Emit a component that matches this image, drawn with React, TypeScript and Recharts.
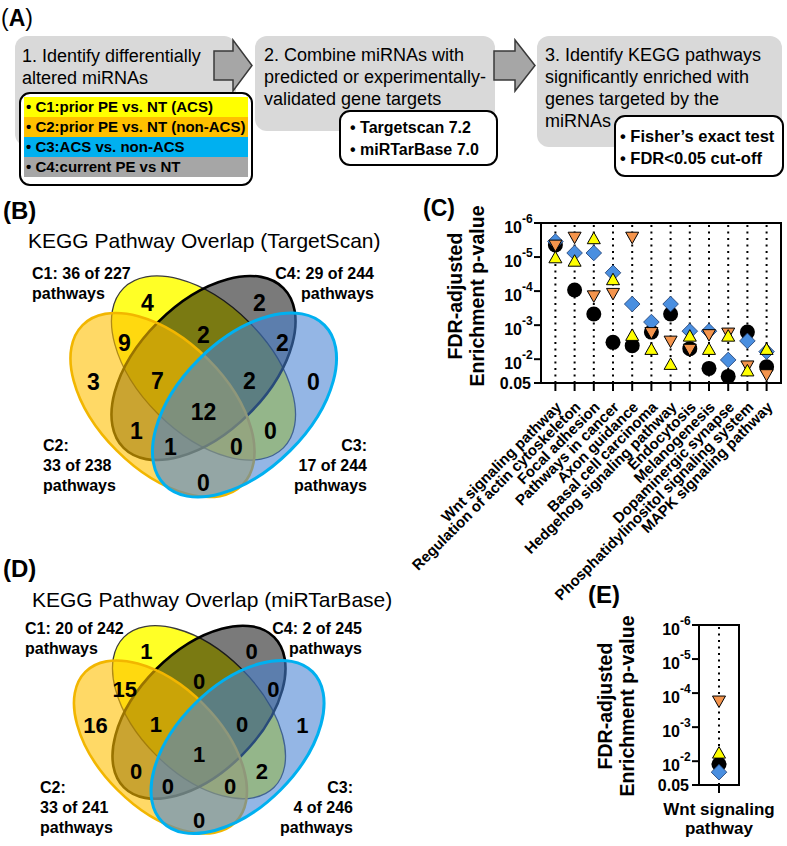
import React from 'react';
import { ScatterChart, Scatter, XAxis, YAxis, ReferenceLine, ReferenceArea } from 'recharts';

const FONT = '"Liberation Sans", Arial, Helvetica, sans-serif';

// ---------- Panel C data ----------
const pathways = [
  'Wnt signaling pathway',
  'Regulation of actin cytoskeleton',
  'Focal adhesion',
  'Pathways in cancer',
  'Axon guidance',
  'Basal cell carcinoma',
  'Hedgehog signaling pathway',
  'Endocytosis',
  'Melanogenesis',
  'Dopaminergic synapse',
  'Phosphatidylinositol signaling system',
  'MAPK signaling pathway',
];
const c1P = [1.0e-5, 1.26e-5, 2.75e-6, 4.4e-5, 1.9e-3, 4.9e-3, 1.35e-2, 2.0e-3, 4.9e-3, 2.0e-3, 2.1e-2, 4.9e-3];
const c2P = [4.7e-6, 2.75e-6, 1.45e-4, 1.23e-4, 2.75e-6, 1.74e-3, 3.1e-3, 5.4e-3, 2.0e-3, 1.8e-3, 1.66e-2, 3.0e-2];
const c3P = [3.5e-6, 7.6e-6, 7.6e-6, 2.9e-5, 2.4e-4, 8.1e-4, 2.4e-4, 1.5e-3, 1.5e-3, 1.05e-2, 2.9e-3, 6.0e-3];
const c4P = [4.4e-6, 9.3e-5, 4.7e-4, 3.2e-3, 4.0e-3, 1.6e-3, 4.7e-4, 4.9e-3, 1.86e-2, 3.2e-2, 1.6e-3, 1.66e-2];
const pTicks = [1e-6, 1e-5, 1e-4, 1e-3, 1e-2, 0.05];

// ---------- Panel E data ----------
const ePathways = ['Wnt signaling pathway'];
const eC1P = [5.5e-3];
const eC2P = [1.8e-4];
const eC3P = [2.1e-2];
const eC4P = [1.23e-2];

// ---------- Venn data ----------
const tsCounts = [4, 2, 9, 2, 2, 3, 7, 2, 0, 12, 1, 0, 1, 0, 0];
const mirCounts = [1, 0, 15, 0, 0, 16, 1, 0, 1, 1, 0, 2, 0, 0, 0];
const tsSetLabels = {
  C1: ['C1: 36 of 227', 'pathways'],
  C4: ['C4: 29 of 244', 'pathways'],
  C2: ['C2:', '33 of 238', 'pathways'],
  C3: ['C3:', '17 of 244', 'pathways'],
};
const mirSetLabels = {
  C1: ['C1: 20 of 242', 'pathways'],
  C4: ['C4: 2 of 245', 'pathways'],
  C2: ['C2:', '33 of 241', 'pathways'],
  C3: ['C3:', '4 of 246', 'pathways'],
};

// layout of the 4-ellipse venn (unit space)
const VENN_REGIONS = [
  [-56, -102], [56, -102], [-79, -62], [0, -70], [79, -62],
  [-110, -23], [-46, -24], [46, -24], [110, -23], [0, 7],
  [-67, 26], [67, 26], [-33, 42], [33, 42], [0, 78],
];
const VENN_LAYOUT = [
  { set: 'C1', x: 0, y: -37, rot: 45 },
  { set: 'C4', x: 0, y: -37, rot: -45 },
  { set: 'C2', x: -41, y: 0, rot: 45 },
  { set: 'C3', x: 41, y: 0, rot: -45 },
];
const SET_STYLE: any = {
  C1: { fill: '#FFFF00', op: 0.85, stroke: '#3a3a3a', sw: 1.3 },
  C4: { fill: '#000000', op: 0.52, stroke: '#000000', sw: 2.6 },
  C2: { fill: '#FFC000', op: 0.6, stroke: '#F2B600', sw: 2.6 },
  C3: { fill: '#4682D2', op: 0.58, stroke: '#00B0F0', sw: 3 },
};

// ---------- markers ----------
const TriUp = (p: any) => {
  const { cx, cy } = p;
  const w = 13, h = 11.5;
  return <polygon points={`${cx},${cy - h / 2} ${cx + w / 2},${cy + h / 2} ${cx - w / 2},${cy + h / 2}`} fill="#FFFF00" stroke="#000" strokeWidth={1} />;
};
const TriDown = (p: any) => {
  const { cx, cy } = p;
  const w = 13, h = 11.5;
  return <polygon points={`${cx - w / 2},${cy - h / 2} ${cx + w / 2},${cy - h / 2} ${cx},${cy + h / 2}`} fill="#F4944C" stroke="#000" strokeWidth={1} />;
};
const Diamond = (p: any) => {
  const { cx, cy } = p;
  const r = 7.8;
  return <polygon points={`${cx},${cy - r} ${cx + r},${cy} ${cx},${cy + r} ${cx - r},${cy}`} fill="#4A8FE0" stroke="#1d3b6e" strokeWidth={0.8} />;
};
const Dot = (p: any) => {
  const { cx, cy } = p;
  return <circle cx={cx} cy={cy} r={7.5} fill="#000" />;
};

const PowTick = (props: any) => {
  const { x, y, payload } = props;
  const v = payload.value;
  if (v > 0.02) {
    return (
      <text x={x - 1} y={y} dy="0.36em" textAnchor="end" fontSize={16} fontWeight="bold" fontFamily={FONT} fill="#000">0.05</text>
    );
  }
  const e = Math.round(Math.log10(v));
  return (
    <g>
      <text x={x - 10} y={y + 10} textAnchor="end" fontSize={16} fontWeight="bold" fontFamily={FONT} fill="#000">10</text>
      <text x={x - 10} y={y} textAnchor="start" fontSize={12} fontWeight="bold" fontFamily={FONT} fill="#000">{String(e)}</text>
    </g>
  );
};

const PathTick = (props: any) => {
  const { x, y, payload } = props;
  const name = pathways[payload.value];
  const ax = x + 7, ay = y + 15;
  return (
    <text x={ax} y={ay} transform={`rotate(-45 ${ax} ${ay})`} textAnchor="end" fontSize={15} fontWeight="bold" fontFamily={FONT} fill="#000">{name}</text>
  );
};

const ETick = (props: any) => {
  const { x, y, payload } = props;
  const words = ePathways[payload.value].split(' ');
  const l1 = words.slice(0, 2).join(' ');
  const l2 = words.slice(2).join(' ');
  return (
    <g>
      <text x={x} y={y + 20} textAnchor="middle" fontSize={17} fontWeight="bold" fontFamily={FONT} fill="#000">{l1}</text>
      <text x={x} y={y + 39} textAnchor="middle" fontSize={17} fontWeight="bold" fontFamily={FONT} fill="#000">{l2}</text>
    </g>
  );
};

const yLabel = (x1: number, x2: number, cyc: number) => () => (
  <g>
    <text transform={`translate(${x1},${cyc}) rotate(-90)`} textAnchor="middle" dy="0.35em" fontSize={19.5} fontWeight="bold" fontFamily={FONT} fill="#000">FDR-adjusted</text>
    <text transform={`translate(${x2},${cyc}) rotate(-90)`} textAnchor="middle" dy="0.35em" fontSize={19.5} fontWeight="bold" fontFamily={FONT} fill="#000">Enrichment p-value</text>
  </g>
);

const axisStroke = { stroke: '#000', strokeWidth: 2 };

function PanelC() {
  const mk = (arr: number[]) => arr.map((p, i) => ({ x: i, p }));
  return (
    <div style={{ position: 'absolute', left: 400, top: 190 }}>
      <ScatterChart width={387} height={440} margin={{ top: 33, right: 6, bottom: 0, left: 0 }}>
        <XAxis type="number" dataKey="x" domain={[-0.75, 11.75]} ticks={pathways.map((_, i) => i)} interval={0}
          axisLine={axisStroke} tickLine={axisStroke} tickSize={8} height={247} tick={<PathTick />} allowDataOverflow />
        <YAxis type="number" dataKey="p" scale="log" domain={[1e-6, 0.05]} reversed ticks={pTicks} interval={0}
          axisLine={axisStroke} tickLine={axisStroke} tickSize={7} width={141} tick={<PowTick />} allowDataOverflow
          label={{ content: yLabel(55, 77, 106) }} />
        <ReferenceArea x1={-0.75} x2={11.75} y1={1e-6} y2={0.05} fill="none" fillOpacity={0} stroke="#000" strokeWidth={2} ifOverflow="visible" />
        {pathways.map((_, i) => (
          <ReferenceLine key={i} x={i} stroke="#000" strokeWidth={2} strokeDasharray="2 4.5" />
        ))}
        <Scatter data={mk(c4P)} shape={Dot} isAnimationActive={false} />
        <Scatter data={mk(c3P)} shape={Diamond} isAnimationActive={false} />
        <Scatter data={mk(c2P)} shape={TriDown} isAnimationActive={false} />
        <Scatter data={mk(c1P)} shape={TriUp} isAnimationActive={false} />
      </ScatterChart>
    </div>
  );
}

function PanelE() {
  const mk = (arr: number[]) => arr.map((p, i) => ({ x: i, p }));
  return (
    <div style={{ position: 'absolute', left: 580, top: 585 }}>
      <ScatterChart width={207} height={261} margin={{ top: 40, right: 48, bottom: 0, left: 0 }}>
        <XAxis type="number" dataKey="x" domain={[-0.5, 0.5]} ticks={[0]} interval={0}
          axisLine={axisStroke} tickLine={axisStroke} tickSize={8} height={61} tick={<ETick />} allowDataOverflow />
        <YAxis type="number" dataKey="p" scale="log" domain={[1e-6, 0.05]} reversed ticks={pTicks} interval={0}
          axisLine={axisStroke} tickLine={axisStroke} tickSize={7} width={119} tick={<PowTick />} allowDataOverflow
          label={{ content: yLabel(25, 47, 121) }} />
        <ReferenceArea x1={-0.5} x2={0.5} y1={1e-6} y2={0.05} fill="none" fillOpacity={0} stroke="#000" strokeWidth={2} ifOverflow="visible" />
        <ReferenceLine x={0} stroke="#000" strokeWidth={2} strokeDasharray="2 4.5" />
        <Scatter data={mk(eC4P)} shape={Dot} isAnimationActive={false} />
        <Scatter data={mk(eC3P)} shape={Diamond} isAnimationActive={false} />
        <Scatter data={mk(eC2P)} shape={TriDown} isAnimationActive={false} />
        <Scatter data={mk(eC1P)} shape={TriUp} isAnimationActive={false} />
      </ScatterChart>
    </div>
  );
}

function Venn({ left, top, width, height, cx, cy, s, counts, fontSize }: any) {
  const xd = [(0 - cx) / s, (width - cx) / s];
  const yd = [(0 - cy) / s, (height - cy) / s];
  const ellipses = VENN_LAYOUT.map((e) => ({ ...e }));
  const labels = VENN_REGIONS.map((r, i) => ({ x: r[0], y: r[1], n: counts[i] }));
  const EllipseShape = (p: any) => {
    const st = SET_STYLE[p.payload.set];
    return (
      <ellipse cx={p.cx} cy={p.cy} rx={113 * s} ry={64.6 * s} transform={`rotate(${p.payload.rot} ${p.cx} ${p.cy})`}
        fill={st.fill} fillOpacity={st.op} stroke={st.stroke} strokeWidth={st.sw} />
    );
  };
  const NumShape = (p: any) => (
    <text x={p.cx} y={p.cy} dy="0.36em" textAnchor="middle" fontSize={fontSize} fontWeight="bold" fontFamily={FONT} fill="#000">{p.payload.n}</text>
  );
  return (
    <div style={{ position: 'absolute', left, top }}>
      <ScatterChart width={width} height={height} margin={{ top: 0, right: 0, bottom: 0, left: 0 }}>
        <XAxis type="number" dataKey="x" domain={xd} hide allowDataOverflow />
        <YAxis type="number" dataKey="y" domain={yd} hide reversed allowDataOverflow />
        <Scatter data={ellipses} shape={EllipseShape} isAnimationActive={false} />
        <Scatter data={labels} shape={NumShape} isAnimationActive={false} />
      </ScatterChart>
    </div>
  );
}

function SetLabels({ labels, c1, c4, c2, c3 }: any) {
  const t = (x: number, y: number, s: string, anchor: string, k: string) => (
    <text key={k} x={x} y={y} textAnchor={anchor} fontSize={16} fontWeight="bold" fontFamily={FONT} fill="#000">{s}</text>
  );
  return (
    <g>
      {labels.C1.map((s: string, i: number) => t(c1[0], c1[1] + i * 20, s, 'start', 'a' + i))}
      {labels.C4.map((s: string, i: number) => t(c4[0], c4[1] + i * 20, s, 'end', 'b' + i))}
      {labels.C2.map((s: string, i: number) => t(c2[0], c2[1] + i * 20, s, 'start', 'c' + i))}
      {labels.C3.map((s: string, i: number) => t(c3[0], c3[1] + i * 20, s, 'end', 'd' + i))}
    </g>
  );
}

function PanelA() {
  const tx = (x: number, y: number, s: string, size = 18, weight = 'normal') => (
    <text x={x} y={y} fontSize={size} fontWeight={weight} fontFamily={FONT} fill="#000">{s}</text>
  );
  const arrow = (x0: number, x1: number, x2: number) =>
    `M${x0},51 L${x1},51 L${x1},40 L${x2},65.5 L${x1},91 L${x1},80 L${x0},80 Z`;
  const legendRows = [
    { c: '#FFFF00', t: '• C1:prior PE vs. NT (ACS)' },
    { c: '#FFC000', t: '• C2:prior PE vs. NT (non-ACS)' },
    { c: '#00B0F0', t: '• C3:ACS vs. non-ACS' },
    { c: '#A6A6A6', t: '• C4:current PE vs NT' },
  ];
  return (
    <g>
      <text x={1} y={26} fontSize={23} fontFamily={FONT} fill="#000">(<tspan fontWeight="bold">A</tspan>)</text>
      <rect x={15} y={36} width={221} height={110} rx={12} fill="#D9D9D9" />
      <rect x={255} y={36} width={240} height={95} rx={12} fill="#D9D9D9" />
      <rect x={537} y={36} width={245} height={111} rx={12} fill="#D9D9D9" />
      <path d={arrow(214, 233, 252)} fill="#A6A6A6" stroke="#3a3a3a" strokeWidth={1.5} />
      <path d={arrow(494, 515, 535)} fill="#A6A6A6" stroke="#3a3a3a" strokeWidth={1.5} />
      {tx(22, 62, '1. Identify differentially')}
      {tx(22, 84, 'altered miRNAs')}
      {tx(264, 61, '2. Combine miRNAs with')}
      {tx(264, 83, 'predicted or experimentally-')}
      {tx(264, 105, 'validated gene targets')}
      {tx(545, 61, '3. Identify KEGG pathways')}
      {tx(545, 83, 'significantly enriched with')}
      {tx(545, 105, 'genes targeted by the')}
      {tx(545, 127, 'miRNAs')}
      <rect x={20} y={93} width={232} height={92} rx={10} fill="#fff" stroke="#000" strokeWidth={2} />
      {legendRows.map((r, i) => (
        <g key={i}>
          <rect x={24} y={97 + i * 20} width={224} height={20} fill={r.c} />
          <text x={26} y={112 + i * 20} fontSize={15} fontWeight="bold" fontFamily={FONT} fill="#000">{r.t}</text>
        </g>
      ))}
      <rect x={340} y={111} width={157} height={54} rx={10} fill="#fff" stroke="#000" strokeWidth={2} />
      {tx(350, 133, '• Targetscan 7.2', 16, 'bold')}
      {tx(350, 155, '• miRTarBase 7.0', 16, 'bold')}
      <rect x={615} y={116} width={168} height={60} rx={10} fill="#fff" stroke="#000" strokeWidth={2} />
      {tx(620, 142, '• Fisher’s exact test', 16.5, 'bold')}
      {tx(620, 164, '• FDR<0.05 cut-off', 16.5, 'bold')}
    </g>
  );
}

export default function App() {
  return (
    <div style={{ position: 'absolute', left: 0, top: 0, width: 787, height: 846, background: '#fff', overflow: 'hidden' }}>
      <Venn left={0} top={250} width={400} height={260} cx={203.5} cy={155} s={1} counts={tsCounts} fontSize={23} />
      <Venn left={0} top={600} width={400} height={246} cx={199} cy={147} s={0.94} counts={mirCounts} fontSize={22} />
      <PanelC />
      <PanelE />
      <svg width={787} height={846} style={{ position: 'absolute', left: 0, top: 0, pointerEvents: 'none' }}>
        <PanelA />
        <text x={3} y={219} fontSize={24} fontWeight="bold" fontFamily={FONT} fill="#000">(B)</text>
        <text x={28} y={248} fontSize={21} fontFamily={FONT} fill="#000">KEGG Pathway Overlap (TargetScan)</text>
        <SetLabels labels={tsSetLabels} c1={[32, 279]} c4={[374, 279]} c2={[43, 451]} c3={[367, 451]} />
        <text x={3} y={577} fontSize={24} fontWeight="bold" fontFamily={FONT} fill="#000">(D)</text>
        <text x={32} y={607} fontSize={21} fontFamily={FONT} fill="#000">KEGG Pathway Overlap (miRTarBase)</text>
        <SetLabels labels={mirSetLabels} c1={[25, 634]} c4={[362, 634]} c2={[40, 793]} c3={[353, 793]} />
        <text x={423} y={216} fontSize={23} fontWeight="bold" fontFamily={FONT} fill="#000">(C)</text>
        <text x={588} y={603} fontSize={24} fontWeight="bold" fontFamily={FONT} fill="#000">(E)</text>
      </svg>
    </div>
  );
}
